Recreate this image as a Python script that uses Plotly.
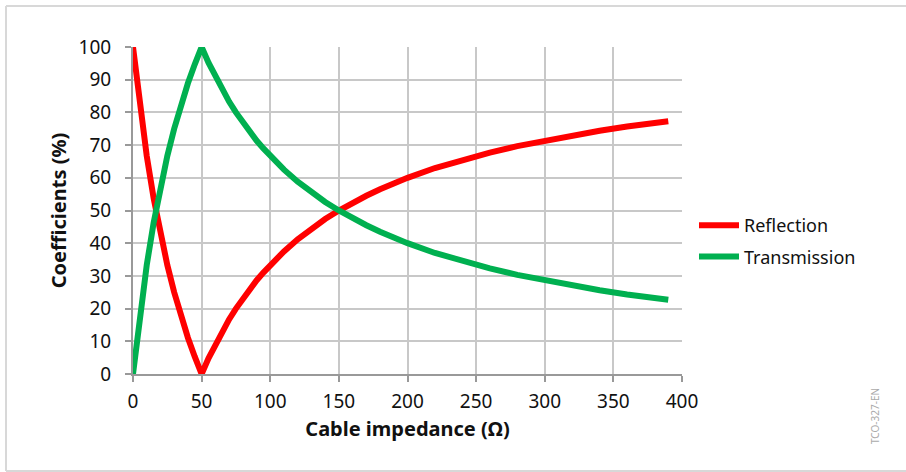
import plotly.graph_objects as go

impedance = [0, 5, 10, 15, 20, 25, 30, 35, 40, 45, 50, 55, 60, 65, 70, 75, 80, 85, 90, 95, 100,
             110, 120, 130, 140, 150, 160, 170, 180, 190,
             200, 220, 240, 260, 280, 300, 320, 340, 360, 380, 390]
reflection = [100, 81.8, 66.7, 53.8, 42.9, 33.3, 25.0, 17.6, 11.1, 5.3, 0, 4.8, 9.1, 13.0, 16.7, 20.0, 23.1,
              25.9, 28.6, 31.0, 33.3, 37.5, 41.2, 44.4, 47.4, 50.0,
              52.4, 54.5, 56.5, 58.3, 60.0, 63.0, 65.5, 67.7, 69.7, 71.4, 73.0, 74.4, 75.7, 76.9, 77.3]
transmission = [0, 18.2, 33.3, 46.2, 57.1, 66.7, 75.0, 82.4, 88.9, 94.7, 100, 95.2, 90.9, 87.0, 83.3, 80.0,
                76.9, 74.1, 71.4, 69.0, 66.7, 62.5, 58.8, 55.6, 52.6, 50.0,
                47.6, 45.5, 43.5, 41.7, 40.0, 37.0, 34.5, 32.3, 30.3, 28.6, 27.0, 25.6, 24.3, 23.1, 22.7]
x_ticks = [0, 50, 100, 150, 200, 250, 300, 350, 400]
y_ticks = [0, 10, 20, 30, 40, 50, 60, 70, 80, 90, 100]

FONT = "Noto Sans"

fig = go.Figure()
fig.add_trace(go.Scatter(x=impedance, y=reflection, mode="lines", name="Reflection", legendgroup="r",
                         line=dict(color="#ff0000", width=6), cliponaxis=False))
fig.add_trace(go.Scatter(x=impedance, y=transmission, mode="lines", name="Transmission", legendgroup="t",
                         line=dict(color="#00b050", width=6), cliponaxis=False))

L, R, T, B = 133, 224, 47, 98
W, H = 906, 472
pw, ph = W - L - R, H - T - B

def px2x(px):
    return (px - L) / pw

def py2y(py):
    return (H - B - py) / ph

fig.update_layout(
    width=W, height=H,
    margin=dict(l=L, r=R, t=T, b=B),
    paper_bgcolor="white", plot_bgcolor="white",
    font=dict(family=FONT, color="#111111", size=19),
    showlegend=True,
    legend=dict(x=px2x(694), y=py2y(207), xanchor="left", yanchor="top",
                font=dict(size=18, family=FONT), itemwidth=40, tracegroupgap=5,
                traceorder="grouped", bgcolor="rgba(0,0,0,0)"),
    xaxis=dict(range=[0, 400], tickvals=x_ticks, ticktext=[str(v) for v in x_ticks],
               showgrid=True, gridcolor="#c8c8c8", gridwidth=2,
               showline=True, linecolor="#999999", linewidth=2,
               ticks="outside", ticklen=6, tickcolor="#999999", tickwidth=2,
               ticklabelstandoff=3,
               zeroline=False, mirror=False,
               tickfont=dict(size=19, family=FONT),
               title=dict(text="<b>Cable impedance (Ω)</b>", font=dict(size=20, family=FONT), standoff=9)),
    yaxis=dict(range=[0, 100], tickvals=y_ticks, ticktext=[str(v) for v in y_ticks],
               showgrid=True, gridcolor="#c8c8c8", gridwidth=2,
               showline=True, linecolor="#999999", linewidth=2,
               ticks="outside", ticklen=6, tickcolor="#999999", tickwidth=2,
               ticklabelstandoff=10,
               zeroline=False,
               tickfont=dict(size=19, family=FONT),
               title=dict(text="<b>Coefficients (%)</b>", font=dict(size=20, family=FONT), standoff=7)),
    shapes=[
        dict(type="line", xref="paper", yref="paper", x0=px2x(6), x1=px2x(906), y0=py2y(6), y1=py2y(6),
             line=dict(color="#d8d8d8", width=2), layer="below"),
        dict(type="line", xref="paper", yref="paper", x0=px2x(6), x1=px2x(906), y0=py2y(471), y1=py2y(471),
             line=dict(color="#d8d8d8", width=2), layer="below"),
        dict(type="line", xref="paper", yref="paper", x0=px2x(6), x1=px2x(6), y0=py2y(6), y1=py2y(471),
             line=dict(color="#d8d8d8", width=2), layer="below"),
    ],
    annotations=[dict(text="TCO-327-EN", xref="paper", yref="paper",
                      x=px2x(875), y=py2y(416), xanchor="center", yanchor="middle",
                      textangle=-90, showarrow=False,
                      font=dict(size=10, color="#aaaaaa", family=FONT))],
)

fig.write_html("out.html", config={"displayModeBar": False},
               post_script="document.body.style.margin='0px';")
